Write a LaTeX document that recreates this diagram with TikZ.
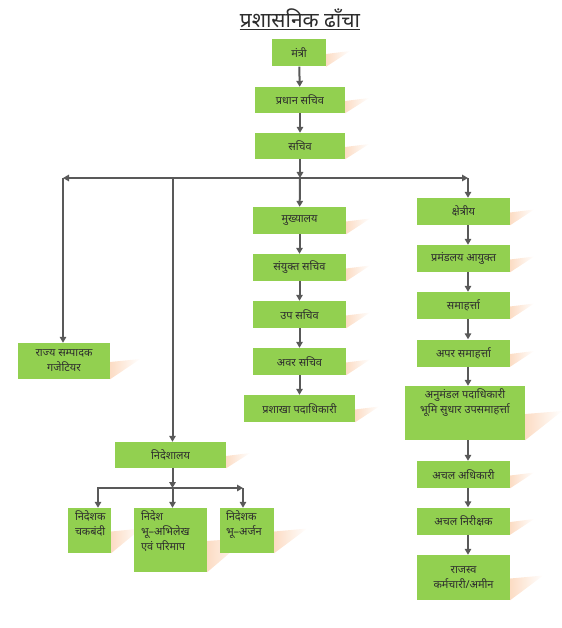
\documentclass[tikz,border=0pt]{standalone}
\usepackage{fontspec}
\setmainfont[Script=Devanagari]{Noto Sans}
\usetikzlibrary{arrows.meta,backgrounds}
\definecolor{boxgreen}{RGB}{146,208,80}
\definecolor{linegray}{RGB}{89,89,89}
\definecolor{peach}{RGB}{252,220,196}
\definecolor{txt}{RGB}{45,45,45}
\tikzset{
  box/.style={fill=boxgreen, draw=none, inner sep=0pt, text=txt, align=center,
    font=\fontsize{11}{15}\selectfont},
  boxtext/.style={inner sep=0pt, text=txt, align=left, font=\fontsize{11}{15}\selectfont},
  conn/.style={draw=linegray, line width=2bp},
  arr/.style={conn, -{Triangle[length=6bp,width=6.5bp]}},
  shadowfill/.style={left color=peach, right color=white, draw=none},
}
\newcommand\boxshadow[2]{%
  \shade[shadowfill] ([yshift=-1bp]#1.east) -- ++(#2,-3) -- (#1.south east) -- cycle;}
\begin{document}
\begin{tikzpicture}[x=1bp,y=-1bp]
\useasboundingbox (0,0) rectangle (562,628);
% title
\node[inner sep=0pt, text=txt, font=\fontsize{21}{24}\selectfont] (title) at (300,18) {प्रशासनिक ढाँचा};
\draw[txt, line width=0.8bp] ([yshift=-2bp]title.south west) -- ([yshift=-2bp]title.south east);
% top chain
\node[box, minimum width=54bp, minimum height=27bp] (mantri) at (299,53) {मंत्री};
\node[box, minimum width=90bp, minimum height=26bp] (pradhan) at (300,100) {प्रधान सचिव};
\node[box, minimum width=90bp, minimum height=26bp] (sachiv) at (300,146) {सचिव};
% middle column
\node[box, minimum width=93bp, minimum height=27bp] (mukhya) at (299.5,220.5) {मुख्यालय};
\node[box, minimum width=93bp, minimum height=27bp] (sanyukt) at (299.5,267.5) {संयुक्त सचिव};
\node[box, minimum width=93bp, minimum height=27bp] (upsachiv) at (299.5,314.5) {उप सचिव};
\node[box, minimum width=93bp, minimum height=27bp] (avar) at (299.5,361.5) {अवर सचिव};
\node[box, minimum width=111bp, minimum height=27bp] (prashakha) at (299.5,408.5) {प्रशाखा पदाधिकारी};
% right column
\node[box, minimum width=93bp, minimum height=27bp] (kshetra) at (463.5,211.5) {क्षेत्रीय};
\node[box, minimum width=93bp, minimum height=27bp] (pramandal) at (463.5,258.5) {प्रमंडलय आयुक्त};
\node[box, minimum width=93bp, minimum height=27bp] (samaharta) at (463.5,305.5) {समाहर्त्ता};
\node[box, minimum width=93bp, minimum height=27bp] (apar) at (463.5,353) {अपर समाहर्त्ता};
\node[box, minimum width=120bp, minimum height=54bp] (anumandal) at (465,413) {};
\node[boxtext, align=center, anchor=north] (anumandalt) at ([yshift=-3bp]anumandal.north) {अनुमंडल पदाधिकारी\\भूमि सुधार उपसमाहर्त्ता};
\node[box, minimum width=93bp, minimum height=27bp] (achaladh) at (463.5,474.5) {अचल अधिकारी};
\node[box, minimum width=93bp, minimum height=27bp] (achalnir) at (463.5,521) {अचल निरीक्षक};
\node[box, minimum width=93bp, minimum height=45bp] (rajasv) at (463.5,577.5) {राजस्व\\कर्मचारी/अमीन};
% left
\node[box, minimum width=92bp, minimum height=36bp] (rajya) at (64,361) {राज्य सम्पादक\\गजेटियर};
\node[box, minimum width=111bp, minimum height=26bp] (nideshalay) at (170.5,455) {निदेशालय};
\node[box, minimum width=43bp, minimum height=45bp] (chak) at (89.5,530.5) {};
\node[boxtext, anchor=north west] (chakt) at ([xshift=7bp,yshift=-3bp]chak.north west) {निदेशक\\चकबंदी};
\node[box, minimum width=73bp, minimum height=64bp] (abhilekh) at (170.5,540) {};
\node[boxtext, anchor=north west] (abhilekht) at ([xshift=7bp,yshift=-3bp]abhilekh.north west) {निदेश\\भू–अभिलेख\\एवं परिमाप};
\node[box, minimum width=54bp, minimum height=45bp] (arjan) at (247,530.5) {};
\node[boxtext, anchor=north west] (arjant) at ([xshift=6bp,yshift=-3bp]arjan.north west) {निदेशक\\भू–अर्जन};
% shadows
\begin{scope}[on background layer]
\boxshadow{mantri}{24}
\boxshadow{pradhan}{24}
\boxshadow{sachiv}{24}
\boxshadow{mukhya}{24}
\boxshadow{sanyukt}{24}
\boxshadow{upsachiv}{24}
\boxshadow{avar}{24}
\boxshadow{prashakha}{24}
\boxshadow{kshetra}{24}
\boxshadow{pramandal}{24}
\boxshadow{samaharta}{24}
\boxshadow{apar}{24}
\boxshadow{anumandal}{37}
\boxshadow{achaladh}{24}
\boxshadow{achalnir}{24}
\boxshadow{rajasv}{33}
\boxshadow{rajya}{30}
\boxshadow{nideshalay}{24}
\boxshadow{chak}{30}
\boxshadow{abhilekh}{40}
\boxshadow{arjan}{33}
\end{scope}
% junction coordinates
\coordinate (j0) at (300,178);
\coordinate (jL) at (63,178);
\coordinate (jM) at (172.5,178);
\coordinate (jR) at (468,178);
\coordinate (cR) at (468,0);
\coordinate (b0) at (172.5,488);
\coordinate (bL) at (98,488);
\coordinate (bR) at (243,488);
% connectors
\draw[arr] (mantri) -- (pradhan);
\draw[arr] (pradhan) -- (sachiv);
\draw[arr] (sachiv) -- (j0);
\draw[arr] (j0) -- (jL);
\draw[arr] (j0) -- (jR);
\draw[arr] (jL) -- (jL |- rajya.north);
\draw[arr] (jM) -- (jM |- nideshalay.north);
\draw[arr] (j0) -- (mukhya);
\draw[arr] (jR) -- (jR |- kshetra.north);
\draw[arr] (mukhya) -- (sanyukt);
\draw[arr] (sanyukt) -- (upsachiv);
\draw[arr] (upsachiv) -- (avar);
\draw[arr] (avar) -- (prashakha);
\draw[arr] (kshetra.south -| cR) -- (pramandal.north -| cR);
\draw[arr] (pramandal.south -| cR) -- (samaharta.north -| cR);
\draw[arr] (samaharta.south -| cR) -- (apar.north -| cR);
\draw[arr] (apar.south -| cR) -- (anumandal.north -| cR);
\draw[arr] (anumandal.south -| cR) -- (achaladh.north -| cR);
\draw[arr] (achaladh.south -| cR) -- (achalnir.north -| cR);
\draw[arr] (achalnir.south -| cR) -- (rajasv.north -| cR);
\draw[arr] (nideshalay.south -| b0) -- (b0);
\draw[arr] (b0) -- (bL) -- (bL |- chak.north);
\draw[arr] (b0) -- (bR);
\draw[arr] (b0) -- (b0 |- abhilekh.north);
\draw[arr] (bR) -- (bR |- arjan.north);
\end{tikzpicture}
\end{document}
